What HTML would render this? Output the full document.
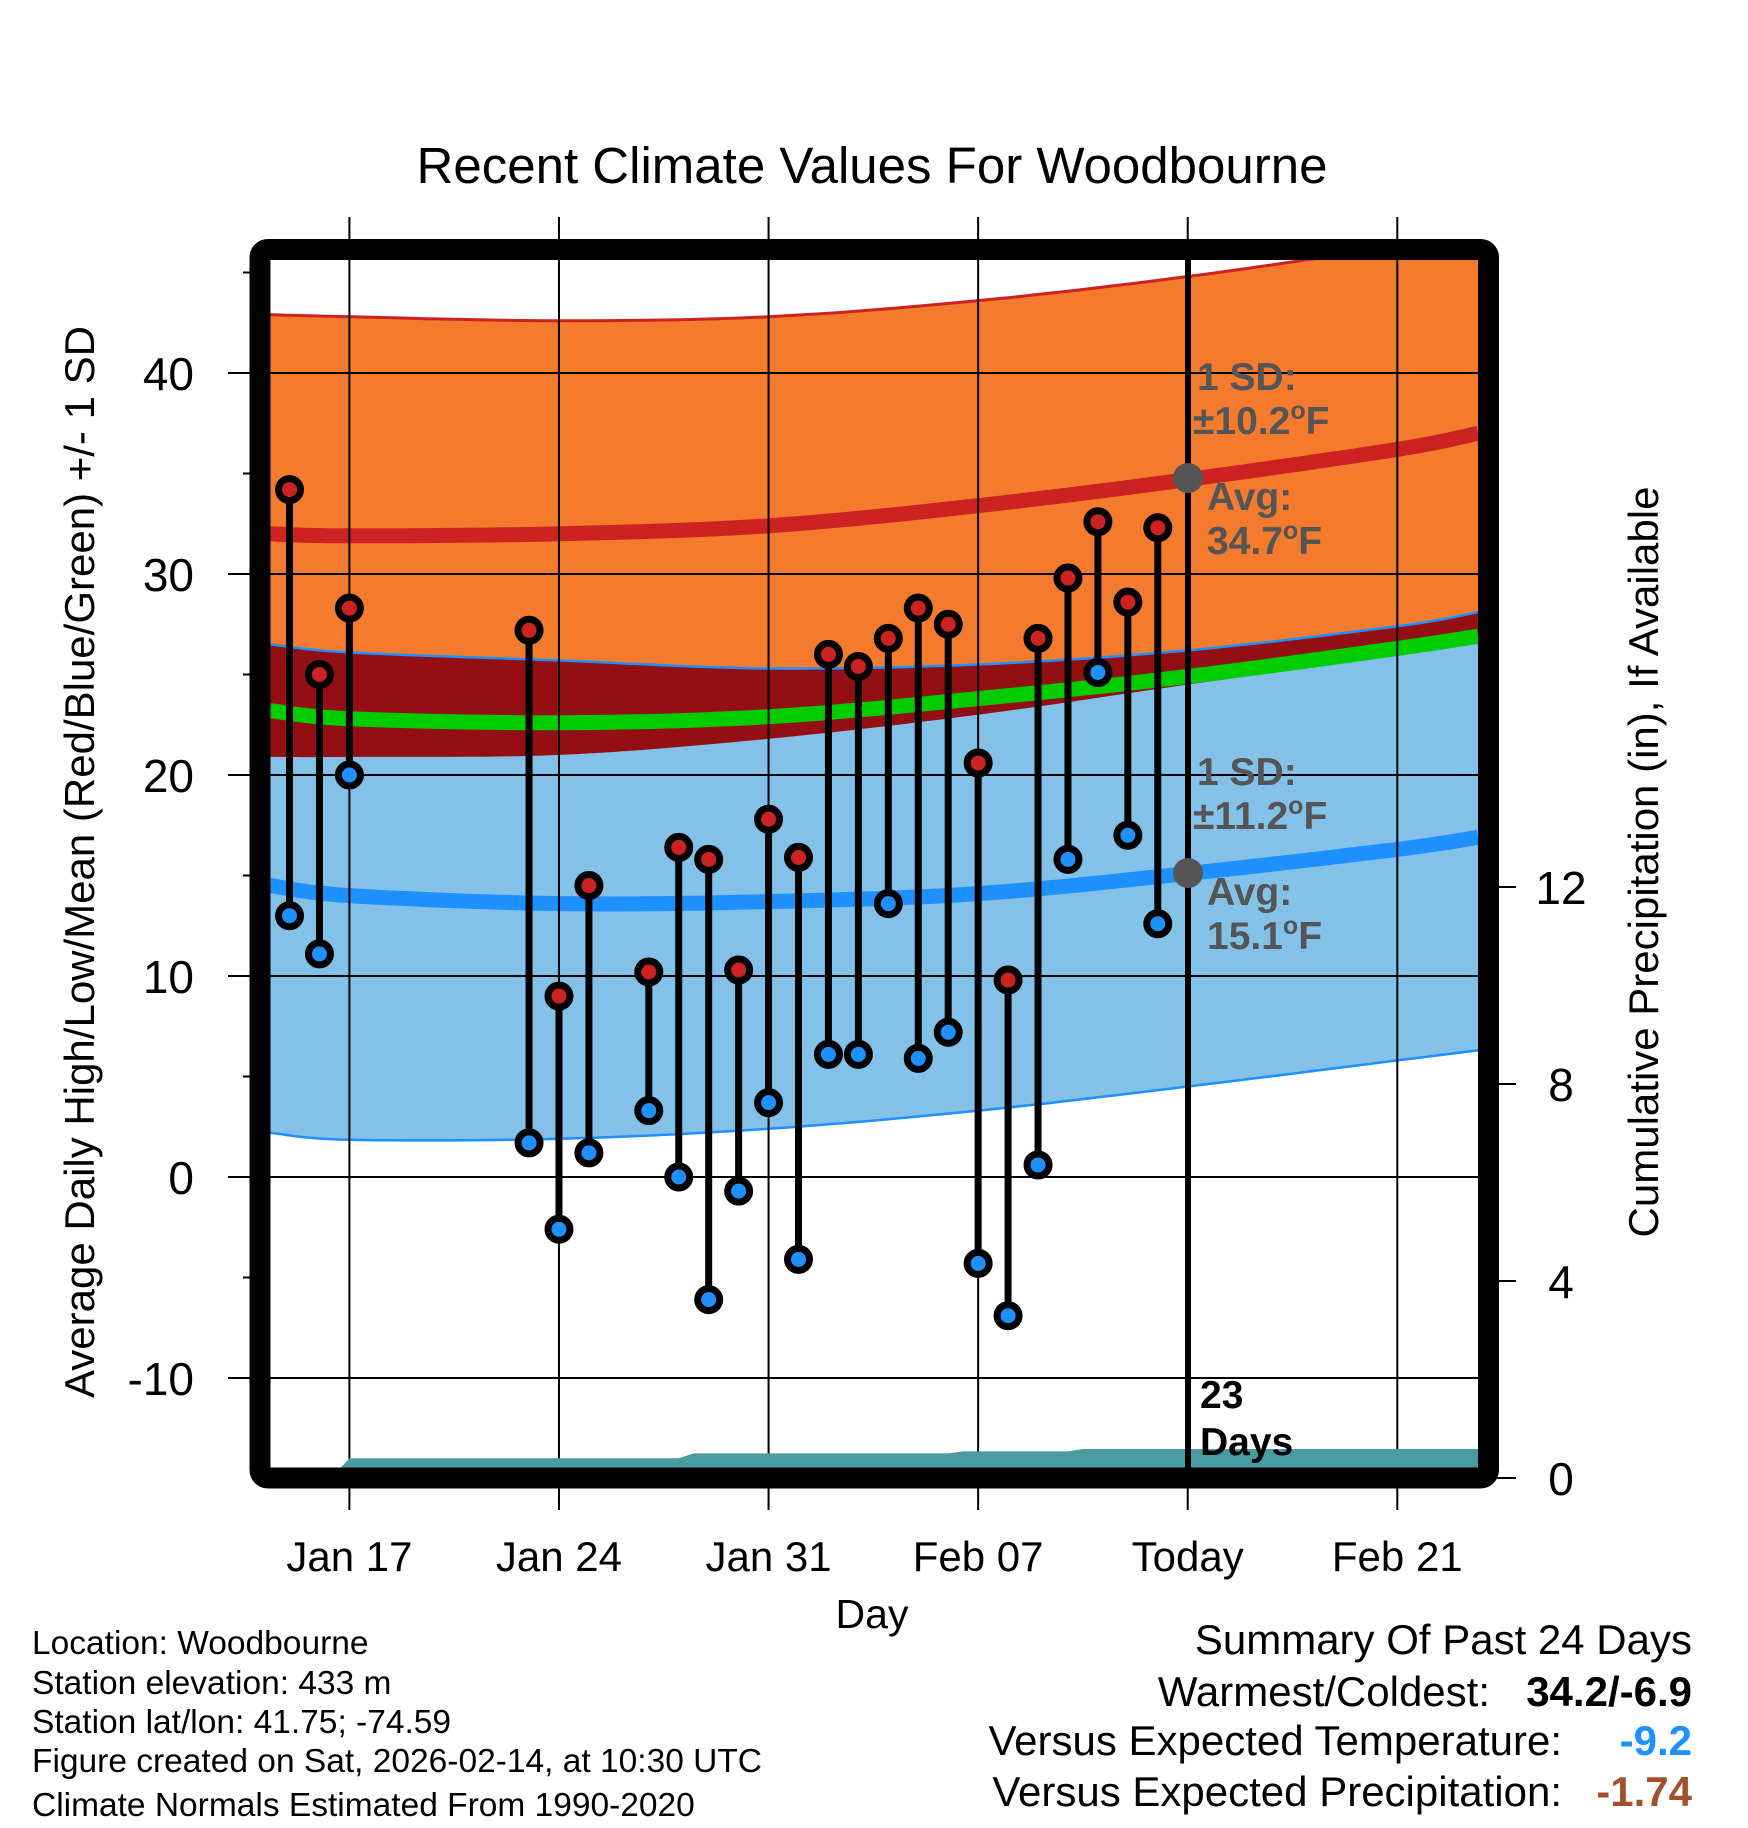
<!DOCTYPE html>
<html><head><meta charset="utf-8"><style>
html,body{margin:0;padding:0;background:#fff;}
svg{display:block;font-family:"Liberation Sans",Arial,sans-serif;}
</style></head><body>
<svg id="chart" width="1748" height="1828" viewBox="0 0 1748 1828">
<defs><clipPath id="plotclip"><rect x="270" y="260" width="1208" height="1208"/></clipPath></defs>
<text x="872" y="183" font-size="51" text-anchor="middle">Recent Climate Values For Woodbourne</text>
<g id="bands" clip-path="url(#plotclip)"></g>
<g id="grid" clip-path="url(#plotclip)"></g>
<g id="precip" clip-path="url(#plotclip)"></g>
<g id="marks"></g>
<g id="axes"></g>
<line x1="1188" y1="258" x2="1188" y2="1468" stroke="#000" stroke-width="6"/>
<g fill="#555" font-weight="bold" font-size="39">
<text x="1197" y="390">1 SD:</text>
<text x="1193" y="434">±10.2<tspan font-size="25" dy="-15">o</tspan><tspan dy="15">F</tspan></text>
<text x="1207" y="510">Avg:</text>
<text x="1207" y="554">34.7<tspan font-size="25" dy="-15">o</tspan><tspan dy="15">F</tspan></text>
<text x="1197" y="785">1 SD:</text>
<text x="1193" y="829">±11.2<tspan font-size="25" dy="-15">o</tspan><tspan dy="15">F</tspan></text>
<text x="1207" y="905">Avg:</text>
<text x="1207" y="949">15.1<tspan font-size="25" dy="-15">o</tspan><tspan dy="15">F</tspan></text>
</g>
<circle cx="1188" cy="478" r="15" fill="#555"/>
<circle cx="1188" cy="873" r="15" fill="#555"/>
<text x="1200" y="1408" font-size="39" font-weight="bold">23</text>
<text x="1200" y="1455" font-size="39" font-weight="bold">Days</text>
<rect x="260" y="249.5" width="1228.5" height="1228.5" rx="8" fill="none" stroke="#000" stroke-width="21"/>
<text transform="translate(94,862) rotate(-90)" font-size="42" text-anchor="middle">Average Daily High/Low/Mean (Red/Blue/Green) +/- 1 SD</text>
<text transform="translate(1658,862) rotate(-90)" font-size="42" text-anchor="middle">Cumulative Precipitation (in), If Available</text>
<text x="872" y="1628" font-size="41" text-anchor="middle">Day</text>
<g font-size="33.5">
<text x="32" y="1654">Location: Woodbourne</text>
<text x="32" y="1694">Station elevation: 433 m</text>
<text x="32" y="1733">Station lat/lon: 41.75; -74.59</text>
<text x="32" y="1772">Figure created on Sat, 2026-02-14, at 10:30 UTC</text>
<text x="32" y="1816">Climate Normals Estimated From 1990-2020</text>
</g>
<g font-size="42">
<text x="1692" y="1654" text-anchor="end">Summary Of Past 24 Days</text>
<text x="1490" y="1706" text-anchor="end">Warmest/Coldest:</text>
<text x="1692" y="1706" text-anchor="end" font-weight="bold">34.2/-6.9</text>
<text x="1562" y="1755" text-anchor="end">Versus Expected Temperature:</text>
<text x="1692" y="1755" text-anchor="end" font-weight="bold" fill="#1E90FF">-9.2</text>
<text x="1562" y="1806" text-anchor="end">Versus Expected Precipitation:</text>
<text x="1692" y="1806" text-anchor="end" font-weight="bold" fill="#A0522D">-1.74</text>
</g>
</svg>
<script>
// day offsets relative to Jan 17
const normDays = [-2.65, 0, 7, 14, 21, 28, 35, 37.7];
const highUpper = [42.9, 42.8, 42.6, 42.8, 43.6, 44.8, 46.3, 46.9];
const highMean = [32.0, 31.9, 32.0, 32.4, 33.4, 34.7, 36.2, 37.0];
const highLower = [20.9, 20.9, 21.0, 21.8, 23.0, 24.5, 26.0, 26.8];
const lowUpper = [26.5, 26.1, 25.7, 25.3, 25.5, 26.2, 27.4, 28.1];
const lowMean = [14.5, 14.0, 13.6, 13.7, 14.1, 15.1, 16.3, 16.9];
const lowLower = [2.2, 1.85, 1.9, 2.4, 3.3, 4.5, 5.8, 6.3];
const avgMean = [23.2, 22.8, 22.6, 22.9, 23.8, 24.9, 26.3, 26.9];
const obsDays = [-2, -1, 0, 6, 7, 8, 10, 11, 12, 13, 14, 15, 16, 17, 18, 19, 20, 21, 22, 23, 24, 25, 26, 27];
const obsHigh = [34.2, 25.0, 28.3, 27.2, 9.0, 14.5, 10.2, 16.4, 15.8, 10.3, 17.8, 15.9, 26.0, 25.4, 26.8, 28.3, 27.5, 20.6, 9.8, 26.8, 29.8, 32.6, 28.6, 32.3];
const obsLow = [13.0, 11.1, 20.0, 1.7, -2.6, 1.2, 3.3, 0.0, -6.1, -0.7, 3.7, -4.1, 6.1, 6.1, 13.6, 5.9, 7.2, -4.3, -6.9, 0.6, 15.8, 25.1, 17.0, 12.6];
const precipDays = [-0.6, 0, 11, 11.5, 20, 20.5, 24, 24.5, 37.7];
const precipVals = [0, 0.40, 0.40, 0.50, 0.50, 0.54, 0.54, 0.59, 0.59];
const yTicks = [40, 30, 20, 10, 0, -10];
const yMinor = [45, 35, 25, 15, 5, -5];
const pTicks = [0, 4, 8, 12];
const xTickDays = [0, 7, 14, 21, 28, 35];
const xTickLabels = ["Jan 17", "Jan 24", "Jan 31", "Feb 07", "Today", "Feb 21"];

const NS = "http://www.w3.org/2000/svg";
const X = d => 349.4 + d * 29.94;
const Y = v => 1177 - v * 20.1;
const P = p => 1478 - p * 49.25;
function mk(tag, attrs, parent) {
  const e = document.createElementNS(NS, tag);
  for (const k in attrs) e.setAttribute(k, attrs[k]);
  parent.appendChild(e);
  return e;
}
// smooth screen-space points through the data samples (Catmull-Rom)
function smooth(days, vals) {
  const px = days.map(X), py = vals.map(Y), out = [];
  const n = px.length;
  for (let i = 0; i < n - 1; i++) {
    const i0 = Math.max(0, i - 1), i3 = Math.min(n - 1, i + 2);
    for (let s = 0; s < 12; s++) {
      const t = s / 12, t2 = t * t, t3 = t2 * t;
      const f = (a, b, c, d) => 0.5 * (2 * b + (-a + c) * t + (2 * a - 5 * b + 4 * c - d) * t2 + (-a + 3 * b - 3 * c + d) * t3);
      out.push(f(px[i0], px[i], px[i + 1], px[i3]).toFixed(1) + "," + f(py[i0], py[i], py[i + 1], py[i3]).toFixed(1));
    }
  }
  out.push(px[n - 1].toFixed(1) + "," + py[n - 1].toFixed(1));
  return out;
}
function band(up, lo) { return smooth(normDays, up).concat(smooth(normDays, lo).reverse()).join(" "); }

const bands = document.getElementById("bands");
let e;
e = mk("polygon", {points: band(highUpper, highLower), fill: "#F47A2E"}, bands);


e = mk("polygon", {points: band(lowUpper, lowLower), fill: "#83C1E8"}, bands);


e = mk("polygon", {points: band(lowUpper, highLower), fill: "#930F14"}, bands);


const lineDefs = [
  [highUpper, "#CC2222", 3, "high-upper-line"],
  [lowUpper, "#1E90FF", 2.5, "low-upper-line"],
  [lowLower, "#1E90FF", 2.5, "low-lower-line"],
  [highMean, "#CC2222", 15, "high-mean-line"],
  [lowMean, "#1E90FF", 15, "low-mean-line"],
  [avgMean, "#00CC00", 15, "avg-mean-line"]
];
lineDefs.forEach(l => {
  const p = mk("polyline", {points: smooth(normDays, l[0]).join(" "), fill: "none", stroke: l[1], "stroke-width": l[2]}, bands);
  
  
});

const grid = document.getElementById("grid");
yTicks.forEach(v => {
  const g = mk("line", {x1: 270, x2: 1478, y1: Y(v), y2: Y(v), stroke: "#000", "stroke-width": 2}, grid);
  
  
});
xTickDays.forEach(d => {
  const g = mk("line", {x1: X(d), x2: X(d), y1: 260, y2: 1468, stroke: "#000", "stroke-width": 2}, grid);
  
  
});

const precip = document.getElementById("precip");
const pp = precipDays.map((d, i) => X(d) + "," + P(precipVals[i]));
pp.push(X(precipDays[precipDays.length - 1]) + "," + P(0), X(precipDays[0]) + "," + P(0));
e = mk("polygon", {points: pp.join(" "), fill: "#4A9BA0"}, precip);



const marks = document.getElementById("marks");
obsDays.forEach((d, i) => {
  const s = mk("line", {x1: X(d), x2: X(d), y1: Y(obsHigh[i]), y2: Y(obsLow[i]), stroke: "#000", "stroke-width": 7}, marks);
  
  
  const h = mk("circle", {cx: X(d), cy: Y(obsHigh[i]), r: 11, fill: "#CC2222", stroke: "#000", "stroke-width": 7}, marks);
  
  
  const lo = mk("circle", {cx: X(d), cy: Y(obsLow[i]), r: 11, fill: "#1E90FF", stroke: "#000", "stroke-width": 7}, marks);
  
  
});

const axes = document.getElementById("axes");
yTicks.forEach(v => {
  const t = mk("line", {x1: 228, x2: 252, y1: Y(v), y2: Y(v), stroke: "#000", "stroke-width": 2}, axes);
  
  
  const l = mk("text", {x: 194, y: Y(v) + 17, "font-size": 46, "text-anchor": "end"}, axes);
  l.textContent = String(v);
  
  
});
yMinor.forEach(v => {
  const t = mk("line", {x1: 243, x2: 252, y1: Y(v), y2: Y(v), stroke: "#000", "stroke-width": 2}, axes);
  
  
});
pTicks.forEach(p => {
  const t = mk("line", {x1: 1496, x2: 1516, y1: P(p), y2: P(p), stroke: "#000", "stroke-width": 2}, axes);
  
  
  const l = mk("text", {x: 1561, y: P(p) + 17, "font-size": 46, "text-anchor": "middle"}, axes);
  l.textContent = String(p);
  
  
});
xTickDays.forEach((d, i) => {
  const t1 = mk("line", {x1: X(d), x2: X(d), y1: 217, y2: 245, stroke: "#000", "stroke-width": 2}, axes);
  
  
  const t2 = mk("line", {x1: X(d), x2: X(d), y1: 1484, y2: 1510, stroke: "#000", "stroke-width": 2}, axes);
  
  
  const l = mk("text", {x: X(d), y: 1571, "font-size": 42, "text-anchor": "middle"}, axes);
  l.textContent = xTickLabels[i];
  
  
});
</script>
</body></html>
